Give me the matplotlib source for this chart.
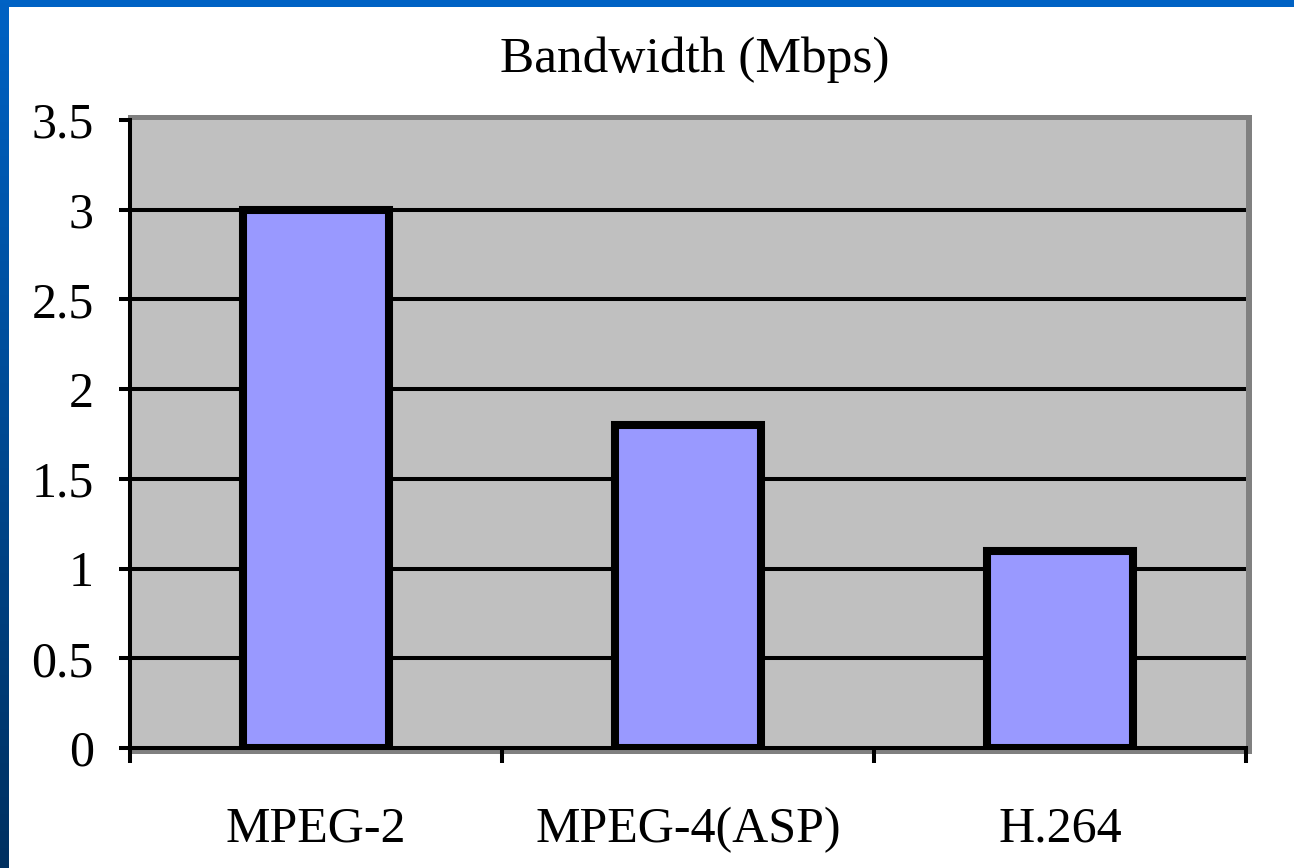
import numpy as np
import matplotlib.pyplot as plt
from matplotlib.patches import Rectangle

codecs = ["MPEG-2", "MPEG-4(ASP)", "H.264"]
bandwidth = [3.0, 1.8, 1.1]
yticks = [0, 0.5, 1, 1.5, 2, 2.5, 3, 3.5]
ytick_labels = ["0", "0.5", "1", "1.5", "2", "2.5", "3", "3.5"]
title = "Bandwidth (Mbps)"

W, H = 1294, 868
plt.rcParams['font.family'] = ['Liberation Serif', 'DejaVu Serif']

fig = plt.figure(figsize=(W / 100, H / 100), dpi=100)
fig.patch.set_facecolor("white")

def px(x0, y0, x1, y1):
    # pixel box (top-left origin) -> figure fraction rect
    return [x0 / W, 1 - y1 / H, (x1 - x0) / W, (y1 - y0) / H]

# blue slide frame: top strip and gradient strip on the left
top = fig.add_axes(px(0, 0, W, 7))
top.set_axis_off()
top.add_patch(Rectangle((0, 0), 1, 1, color="#0062C4", transform=top.transAxes))

left = fig.add_axes(px(0, 0, 9, H))
left.set_axis_off()
grad = np.linspace(0, 1, 256)[:, None]
c0 = np.array([0x00, 0x62, 0xC4]) / 255
c1 = np.array([0x00, 0x30, 0x60]) / 255
img = c0[None, None, :] * (1 - grad[:, :, None]) + c1[None, None, :] * grad[:, :, None]
left.imshow(img, aspect="auto", extent=[0, 1, 0, 1], origin="upper")

# dark gray frame behind the plot area
x0, x1, ytop, ybot = 130, 1246, 120, 748
fig.add_artist(Rectangle((128 / W, 1 - 754 / H), (1252 - 128) / W, (754 - 115) / H,
                         transform=fig.transFigure, facecolor="#808080",
                         edgecolor="none", zorder=-1))

ax = fig.add_axes(px(x0, ytop, x1, ybot))
ax.set_facecolor("#C0C0C0")

x = np.arange(len(codecs))
ax.bar(x, bandwidth, width=0.39, color="#9999FF", edgecolor="black",
       linewidth=5.8, zorder=3)

ax.set_xlim(-0.5, len(codecs) - 0.5)
ax.set_ylim(0, 3.5)

# horizontal gridlines
for v in yticks[1:-1]:
    ax.axhline(v, color="black", linewidth=2.9, zorder=1)

ax.set_yticks(yticks)
ax.set_yticklabels(ytick_labels)
ax.tick_params(axis="y", length=8, width=2.9, pad=18, labelsize=36, direction="out")

# category boundary ticks, names on minor ticks in the middle
ax.set_xticks(np.arange(-0.5, len(codecs)))
ax.set_xticklabels([])
ax.tick_params(axis="x", which="major", length=11, width=2.9, direction="out")
ax.set_xticks(x, minor=True)
ax.set_xticklabels(codecs, minor=True)
ax.tick_params(axis="x", which="minor", length=0, pad=42, labelsize=36)

for s in ["top", "right"]:
    ax.spines[s].set_visible(False)
for s in ["left", "bottom"]:
    ax.spines[s].set_linewidth(2.9)
    ax.spines[s].set_color("black")

fig.text(695 / W, 1 - 60 / H, title, ha="center", va="center", fontsize=37)

fig.savefig("out.png", dpi=100)
